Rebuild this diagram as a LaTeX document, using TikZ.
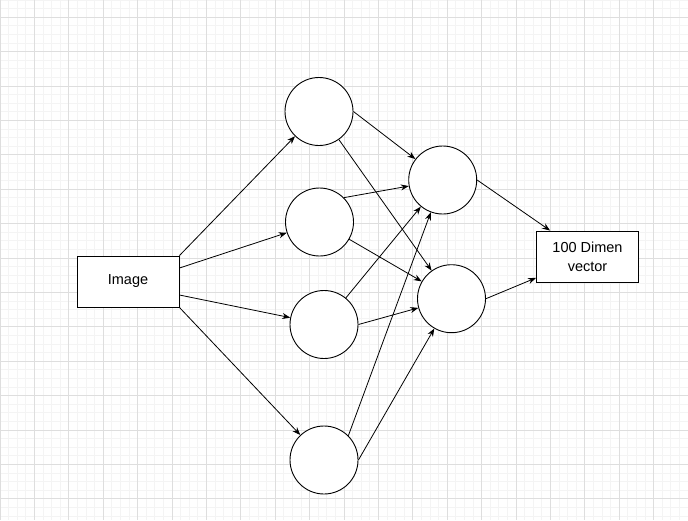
\documentclass[tikz,border=0pt]{standalone}
\usepackage{fontspec}
\setmainfont{Liberation Sans}
\usetikzlibrary{arrows.meta}
\definecolor{gridminor}{RGB}{244,244,244}
\definecolor{gridmajor}{RGB}{222,222,222}
\newcommand{\backgrid}{\fill[white] (0,0) rectangle (688,520);
					\foreach \i in {0,...,80} {\draw[gridminor, line width=0.8pt] (\i*8.6,0) -- (\i*8.6,520);}
					\foreach \j in {0,...,60} {\draw[gridminor, line width=0.8pt] (0,\j*8.6) -- (688,\j*8.6);}
					\foreach \i in {0,...,20} {\draw[gridmajor, line width=0.8pt] (\i*34.4,0) -- (\i*34.4,520);}
					\foreach \j in {0,...,14} {\draw[gridmajor, line width=0.8pt] (0,17.2+\j*34.4) -- (688,17.2+\j*34.4);}}
\tikzset{
	neuron/.style={circle, draw, fill=white, line width=0.9pt, minimum size=68pt, inner sep=0pt},
	databox/.style={rectangle, draw, fill=white, line width=0.9pt, minimum width=102pt, minimum height=51pt, align=center, font=\fontsize{14.5}{19}\selectfont},
	link/.style={line width=0.8pt, -{Stealth[length=8pt, width=6pt]}}
}

\begin{document}
\begin{tikzpicture}[x=1pt, y=-1pt]

					\useasboundingbox (0,0) rectangle (688,520);
					\backgrid

					\node[databox] (image) at (128,281.5) {Image};
					\node[databox] (vector) at (587.5,256.5) {100 Dimen\\vector};

					\node[neuron] (a1) at (319,111.5) {};
					\node[neuron] (a2) at (319.5,222) {};
					\node[neuron] (a3) at (324,324.5) {};
					\node[neuron] (a4) at (324,460) {};

					\node[neuron] (b1) at (442.7,180) {};
					\node[neuron] (b2) at (451.5,298.7) {};

					\coordinate (imgout2) at ([yshift=13.5pt]image.east);
					\coordinate (imgout3) at ([yshift=-13.5pt]image.east);

					\draw[link] (image.north east) -- (a1);
					\draw[link] (imgout2) -- (a2);
					\draw[link] (imgout3) -- (a3);
					\draw[link] (image.south east) -- (a4);

					\draw[link] (a1.east) -- (b1);
					\draw[link] (a1) -- (b2);
					\draw[link] (a2.45) -- (b1);
					\draw[link] (a2) -- (b2);
					\draw[link] (a3) -- (b1);
					\draw[link] (a3.east) -- (b2);
					\draw[link] (a4.45) -- (b1);
					\draw[link] (a4.east) -- (b2);

					\draw[link] (b1.east) -- (vector);
					\draw[link] (b2.east) -- (vector);

\end{tikzpicture}
\end{document}
